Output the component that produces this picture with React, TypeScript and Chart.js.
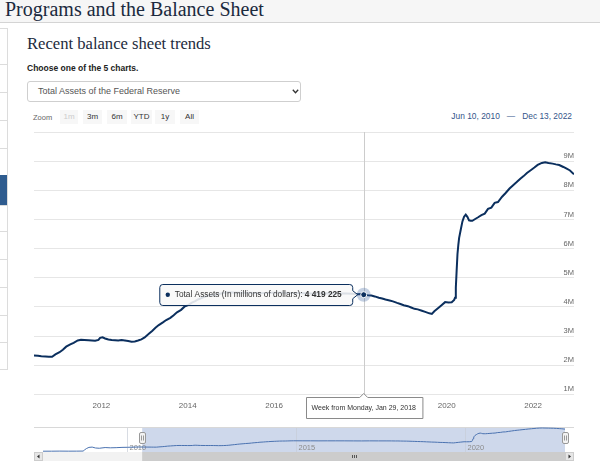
import React, { useEffect, useRef } from "react";
import { Chart, registerables } from "chart.js";

Chart.register(...registerables);

// ---------- data ----------
const DATES: string[] = [
  "2007-07-04", "2007-10-03", "2008-01-02", "2008-04-02", "2008-07-02", "2008-09-10", "2008-09-24",
  "2008-10-15", "2008-11-12", "2008-12-17", "2009-01-21", "2009-03-04", "2009-05-06", "2009-07-01",
  "2009-09-02", "2009-11-04", "2010-01-06", "2010-03-03", "2010-05-05", "2010-06-10", "2010-07-14",
  "2010-08-11", "2010-09-15", "2010-10-13", "2010-11-10", "2010-12-08", "2011-01-12", "2011-02-09",
  "2011-03-09", "2011-04-13", "2011-05-11", "2011-06-15", "2011-07-13", "2011-08-10", "2011-09-14",
  "2011-10-12", "2011-11-09", "2011-12-07", "2011-12-21", "2012-01-11", "2012-02-01", "2012-02-29",
  "2012-03-28", "2012-04-25", "2012-05-23", "2012-06-20", "2012-07-18", "2012-08-15", "2012-09-12",
  "2012-10-10", "2012-11-07", "2012-12-05", "2013-01-02", "2013-02-06", "2013-03-06", "2013-04-03",
  "2013-05-01", "2013-06-05", "2013-07-03", "2013-08-07", "2013-09-04", "2013-10-02", "2013-11-06",
  "2013-12-04", "2014-01-08", "2014-02-05", "2014-03-05", "2014-04-02", "2014-05-07", "2014-06-04",
  "2014-07-02", "2014-08-06", "2014-09-03", "2014-10-01", "2014-11-05", "2014-12-03", "2015-03-04",
  "2015-06-03", "2015-09-02", "2015-12-02", "2016-03-02", "2016-06-01", "2016-09-07", "2016-12-07",
  "2017-03-01", "2017-06-07", "2017-09-06", "2017-10-25", "2017-12-06", "2018-01-03", "2018-01-29",
  "2018-03-07", "2018-04-04", "2018-05-02", "2018-06-06", "2018-07-04", "2018-08-01", "2018-09-05",
  "2018-10-03", "2018-11-07", "2018-12-05", "2019-01-02", "2019-02-06", "2019-03-06", "2019-04-03",
  "2019-05-01", "2019-06-05", "2019-07-03", "2019-08-07", "2019-08-28", "2019-09-18", "2019-10-16",
  "2019-11-13", "2019-12-18", "2020-01-15", "2020-02-12", "2020-03-04", "2020-03-11", "2020-03-18",
  "2020-03-25", "2020-04-01", "2020-04-08", "2020-04-15", "2020-04-29", "2020-05-13", "2020-05-27",
  "2020-06-10", "2020-06-24", "2020-07-08", "2020-07-22", "2020-08-05", "2020-08-26", "2020-09-23",
  "2020-10-21", "2020-11-18", "2020-12-16", "2021-01-13", "2021-02-10", "2021-03-10", "2021-04-14",
  "2021-05-12", "2021-06-16", "2021-07-14", "2021-08-11", "2021-09-15", "2021-10-13", "2021-11-10",
  "2021-12-15", "2022-01-12", "2022-02-09", "2022-03-16", "2022-04-13", "2022-05-11", "2022-06-15",
  "2022-07-13", "2022-08-10", "2022-09-14", "2022-10-12", "2022-11-09", "2022-12-13",
];

const ASSETS: number[] = [
  878000, 884000, 915000, 893000, 902000, 925000, 1286000,
  1780000, 2207000, 2309000, 2002000, 1904000, 2145000, 2056000,
  2111000, 2205000, 2240000, 2283000, 2337000, 2334000, 2322000,
  2308000, 2302000, 2293000, 2289000, 2370000, 2446000, 2532000,
  2637000, 2712000, 2771000, 2850000, 2871000, 2867000, 2858000,
  2850000, 2841000, 2868000, 2939000, 2958000, 2919000, 2881000,
  2866000, 2859000, 2847000, 2862000, 2847000, 2831000, 2808000,
  2818000, 2849000, 2887000, 2955000, 3080000, 3177000, 3285000,
  3378000, 3470000, 3552000, 3624000, 3717000, 3817000, 3900000,
  4008000, 4073000, 4146000, 4197000, 4265000, 4319000, 4361000,
  4398000, 4419000, 4427000, 4452000, 4486000, 4500000, 4488000,
  4490000, 4472000, 4483000, 4483000, 4478000, 4466000, 4453000,
  4473000, 4463000, 4464000, 4456000, 4438000, 4440000, 4419225,
  4400000, 4389000, 4361000, 4316000, 4290000, 4254000, 4218000,
  4191000, 4139000, 4101000, 4058000, 4026000, 3979000, 3934000,
  3916000, 3868000, 3829000, 3780000, 3760000, 3850000, 3945000,
  4044000, 4165000, 4152000, 4162000, 4241000, 4312000, 4666000,
  5254000, 5815000, 6122000, 6368000, 6656000, 6934000, 7097000,
  7169000, 7092000, 6970000, 6959000, 6955000, 7008000, 7076000,
  7149000, 7201000, 7362000, 7408000, 7569000, 7597000, 7781000,
  7900000, 8062000, 8168000, 8265000, 8397000, 8487000, 8593000,
  8695000, 8780000, 8870000, 8940000, 8960000, 8935000, 8915000,
  8890000, 8868000, 8800000, 8740000, 8680000, 8551000,
];

const Y_TICKS: number[] = [1e6, 2e6, 3e6, 4e6, 5e6, 6e6, 7e6, 8e6, 9e6, 10e6];
const X_TICK_YEARS: number[] = [2012, 2014, 2016, 2018, 2020, 2022];
const NAV_YEARS: number[] = [2010, 2015, 2020];
const RANGE_START = "2010-06-10";
const RANGE_END = "2022-12-13";
const HOVER_DATE = "2018-01-29";
const SERIES_NAME = "Total Assets (In millions of dollars)";
const HOVER_LABEL = "Week from Monday, Jan 29, 2018";
const ZOOM_BUTTONS: string[] = ["1m", "3m", "6m", "YTD", "1y", "All"];
const RANGE_FROM_TEXT = "Jun 10, 2010";
const RANGE_TO_TEXT = "Dec 13, 2022";

// ---------- helpers ----------
const LINE = "#0b2f5e";
const SANS = "'Liberation Sans', Arial, sans-serif";
const SERIF = "'Liberation Serif', 'Times New Roman', serif";

function toYear(s: string): number {
  const [y, m, d] = s.split("-").map(Number);
  const a = Date.UTC(y, 0, 1);
  const b = Date.UTC(y + 1, 0, 1);
  return y + (Date.UTC(y, m - 1, d) - a) / (b - a);
}

function fmt(v: number): string {
  return String(v).replace(/\B(?=(\d{3})+(?!\d))/g, " ");
}

function roundRect(ctx: CanvasRenderingContext2D, x: number, y: number, w: number, h: number, r: number) {
  ctx.beginPath();
  ctx.moveTo(x + r, y);
  ctx.lineTo(x + w - r, y);
  ctx.quadraticCurveTo(x + w, y, x + w, y + r);
  ctx.lineTo(x + w, y + h - r);
  ctx.quadraticCurveTo(x + w, y + h, x + w - r, y + h);
  ctx.lineTo(x + r, y + h);
  ctx.quadraticCurveTo(x, y + h, x, y + h - r);
  ctx.lineTo(x, y + r);
  ctx.quadraticCurveTo(x, y, x + r, y);
  ctx.closePath();
}

const points = DATES.map((d, i) => ({ x: toYear(d), y: ASSETS[i] }));

function MainChart() {
  const ref = useRef<HTMLCanvasElement | null>(null);
  useEffect(() => {
    if (!ref.current) return;
    const hi = DATES.indexOf(HOVER_DATE);
    const overlay = {
      id: "overlay",
      beforeDatasetsDraw(chart: any) {
        const { ctx, chartArea, scales } = chart;
        const px = Math.round(scales.x.getPixelForValue(toYear(HOVER_DATE))) + 0.5;
        ctx.save();
        ctx.strokeStyle = "#cccccc";
        ctx.lineWidth = 1;
        ctx.beginPath();
        ctx.moveTo(px, chartArea.top);
        ctx.lineTo(px, chartArea.bottom + 2);
        ctx.stroke();
        ctx.restore();
      },
      afterDraw(chart: any) {
        const { ctx, chartArea, scales } = chart;
        const px = scales.x.getPixelForValue(toYear(HOVER_DATE));
        const py = scales.y.getPixelForValue(ASSETS[hi]);
        ctx.save();
        // halo + marker
        ctx.fillStyle = "rgba(60,100,160,0.3)";
        ctx.beginPath();
        ctx.arc(px, py, 7, 0, Math.PI * 2);
        ctx.fill();
        ctx.fillStyle = LINE;
        ctx.strokeStyle = "#ffffff";
        ctx.lineWidth = 1;
        ctx.beginPath();
        ctx.arc(px, py, 3, 0, Math.PI * 2);
        ctx.fill();
        ctx.stroke();

        // series tooltip (to the left of the point)
        const fontN = `8.3px ${SANS}`;
        const fontB = `bold 8.3px ${SANS}`;
        const label = SERIES_NAME + ": ";
        const val = fmt(ASSETS[hi]);
        ctx.font = fontN;
        const wl = ctx.measureText(label).width;
        ctx.font = fontB;
        const wv = ctx.measureText(val).width;
        const boxW = 16 + wl + wv + 10;
        const boxH = 21;
        const right = px - 11;
        const left = right - boxW;
        const top = Math.round(py - boxH / 2) + 0.5;
        ctx.beginPath();
        ctx.moveTo(left + 3, top);
        ctx.lineTo(right - 3, top);
        ctx.quadraticCurveTo(right, top, right, top + 3);
        ctx.lineTo(right, py - 4);
        ctx.lineTo(right + 5, py);
        ctx.lineTo(right, py + 4);
        ctx.lineTo(right, top + boxH - 3);
        ctx.quadraticCurveTo(right, top + boxH, right - 3, top + boxH);
        ctx.lineTo(left + 3, top + boxH);
        ctx.quadraticCurveTo(left, top + boxH, left, top + boxH - 3);
        ctx.lineTo(left, top + 3);
        ctx.quadraticCurveTo(left, top, left + 3, top);
        ctx.closePath();
        ctx.fillStyle = "rgba(248,248,248,0.88)";
        ctx.fill();
        ctx.strokeStyle = LINE;
        ctx.lineWidth = 1;
        ctx.stroke();
        ctx.fillStyle = LINE;
        ctx.beginPath();
        ctx.arc(left + 8, py, 2.2, 0, Math.PI * 2);
        ctx.fill();
        ctx.textBaseline = "middle";
        ctx.textAlign = "left";
        ctx.fillStyle = "#333333";
        ctx.font = fontN;
        ctx.fillText(label, left + 15, py + 0.5);
        ctx.font = fontB;
        ctx.fillText(val, left + 15 + wl, py + 0.5);

        // x crosshair label
        ctx.font = `7px ${SANS}`;
        const tw = ctx.measureText(HOVER_LABEL).width;
        const lw = tw + 12;
        const lh = 21;
        const lx = Math.round(px - lw / 2) + 0.5;
        const ly = Math.round(chartArea.bottom + 3) + 0.5;
        ctx.beginPath();
        ctx.moveTo(lx, ly);
        ctx.lineTo(px - 4, ly);
        ctx.lineTo(px, ly - 4);
        ctx.lineTo(px + 4, ly);
        ctx.lineTo(lx + lw, ly);
        ctx.lineTo(lx + lw, ly + lh);
        ctx.lineTo(lx, ly + lh);
        ctx.closePath();
        ctx.fillStyle = "#ffffff";
        ctx.fill();
        ctx.strokeStyle = "#8a8a8a";
        ctx.stroke();
        ctx.fillStyle = "#333333";
        ctx.textAlign = "center";
        ctx.fillText(HOVER_LABEL, px, ly + lh / 2 + 0.5);
        ctx.restore();
      },
    };
    const chart = new Chart(ref.current, {
      type: "line",
      data: {
        datasets: [
          {
            data: points,
            borderColor: LINE,
            borderWidth: 2,
            pointRadius: 0,
            tension: 0,
            fill: false,
          },
        ],
      },
      options: {
        animation: false,
        responsive: false,
        devicePixelRatio: 1,
        events: [],
        layout: { padding: { left: 34, right: 26, top: 7, bottom: 7 } },
        plugins: { legend: { display: false }, tooltip: { enabled: false } },
        scales: {
          x: {
            type: "linear",
            min: toYear(RANGE_START),
            max: toYear(RANGE_END),
            grid: { display: false, drawTicks: false },
            border: { display: false },
            afterBuildTicks: (s: any) => {
              s.ticks = X_TICK_YEARS.map((v) => ({ value: v }));
            },
            ticks: {
              autoSkip: false,
              maxRotation: 0,
              padding: 7,
              color: "#666666",
              font: { family: SANS, size: 8 },
              callback: (v: any) => String(v),
            },
          },
          y: {
            type: "linear",
            position: "right",
            min: Y_TICKS[0],
            max: Y_TICKS[Y_TICKS.length - 1],
            afterBuildTicks: (s: any) => {
              s.ticks = Y_TICKS.map((v) => ({ value: v }));
            },
            grid: { color: "#e6e6e6", drawTicks: false },
            border: { display: false },
            ticks: {
              mirror: true,
              padding: 0,
              labelOffset: -5,
              color: "#666666",
              font: { family: SANS, size: 7.5 },
              callback: (v: any) => (v === Y_TICKS[Y_TICKS.length - 1] ? "" : v / 1e6 + "M"),
            },
          },
        },
      },
      plugins: [overlay],
    } as any);
    return () => chart.destroy();
  }, []);
  return (
    <canvas
      ref={ref}
      width={600}
      height={300}
      style={{ position: "absolute", left: 0, top: 125, width: 600, height: 300 }}
    />
  );
}

function NavigatorChart() {
  const ref = useRef<HTMLCanvasElement | null>(null);
  useEffect(() => {
    if (!ref.current) return;
    const navPlugin = {
      id: "nav",
      beforeDatasetsDraw(chart: any) {
        const { ctx, chartArea, scales } = chart;
        ctx.save();
        // top border
        ctx.strokeStyle = "#d8d8d8";
        ctx.lineWidth = 1;
        ctx.beginPath();
        ctx.moveTo(chartArea.left - 9, chartArea.top + 0.5);
        ctx.lineTo(chartArea.right + 9, chartArea.top + 0.5);
        ctx.stroke();
        // mask
        const m0 = scales.x.getPixelForValue(toYear(RANGE_START));
        const m1 = scales.x.getPixelForValue(toYear(RANGE_END));
        ctx.fillStyle = "rgba(102,133,194,0.32)";
        ctx.fillRect(m0, chartArea.top + 1, m1 - m0, chartArea.bottom - chartArea.top - 1);
        // year grid + labels
        ctx.font = `7.5px ${SANS}`;
        ctx.textBaseline = "alphabetic";
        ctx.textAlign = "left";
        NAV_YEARS.forEach((yr) => {
          const gx = Math.round(scales.x.getPixelForValue(yr)) + 0.5;
          ctx.strokeStyle = "rgba(200,205,215,0.7)";
          ctx.beginPath();
          ctx.moveTo(gx, chartArea.top + 1);
          ctx.lineTo(gx, chartArea.bottom);
          ctx.stroke();
          ctx.fillStyle = "#8c8c8c";
          ctx.fillText(String(yr), gx + 2, chartArea.bottom - 2);
        });
        ctx.restore();
      },
      afterDraw(chart: any) {
        const { ctx, chartArea, scales } = chart;
        const m0 = scales.x.getPixelForValue(toYear(RANGE_START));
        const m1 = scales.x.getPixelForValue(toYear(RANGE_END));
        ctx.save();
        // handles
        [m0, m1].forEach((hx) => {
          const x = Math.round(hx - 3) + 0.5;
          const y = chartArea.top + 5.5;
          roundRect(ctx, x, y, 6, 11, 1.5);
          ctx.fillStyle = "#f2f2f2";
          ctx.fill();
          ctx.strokeStyle = "#999999";
          ctx.lineWidth = 1;
          ctx.stroke();
          ctx.beginPath();
          ctx.moveTo(x + 2, y + 3);
          ctx.lineTo(x + 2, y + 8);
          ctx.moveTo(x + 4, y + 3);
          ctx.lineTo(x + 4, y + 8);
          ctx.stroke();
        });
        // scrollbar
        const sy = chartArea.bottom;
        const sh = 9;
        const L = chartArea.left - 9;
        const R = chartArea.right + 9;
        ctx.fillStyle = "#f2f2f2";
        ctx.fillRect(L, sy, R - L, sh);
        ctx.fillStyle = "#cccccc";
        ctx.fillRect(m0, sy, m1 - m0, sh);
        // grip
        const gc = (m0 + m1) / 2;
        ctx.strokeStyle = "#555555";
        ctx.beginPath();
        [-2, 0, 2].forEach((o) => {
          ctx.moveTo(Math.round(gc + o) + 0.5, sy + 3);
          ctx.lineTo(Math.round(gc + o) + 0.5, sy + 6);
        });
        ctx.stroke();
        // buttons
        ctx.fillStyle = "#e6e6e6";
        ctx.fillRect(L, sy, 9, sh);
        ctx.fillRect(R - 9, sy, 9, sh);
        ctx.strokeStyle = "#cccccc";
        ctx.strokeRect(L + 0.5, sy + 0.5, 8, sh - 1);
        ctx.strokeRect(R - 8.5, sy + 0.5, 8, sh - 1);
        ctx.fillStyle = "#333333";
        ctx.beginPath();
        ctx.moveTo(L + 3, sy + sh / 2);
        ctx.lineTo(L + 5.5, sy + 2.5);
        ctx.lineTo(L + 5.5, sy + sh - 2.5);
        ctx.closePath();
        ctx.fill();
        ctx.beginPath();
        ctx.moveTo(R - 3, sy + sh / 2);
        ctx.lineTo(R - 5.5, sy + 2.5);
        ctx.lineTo(R - 5.5, sy + sh - 2.5);
        ctx.closePath();
        ctx.fill();
        ctx.restore();
      },
    };
    const chart = new Chart(ref.current, {
      type: "line",
      data: {
        datasets: [
          {
            data: points,
            borderColor: "#4a72b0",
            borderWidth: 1,
            pointRadius: 0,
            tension: 0,
            fill: false,
          },
        ],
      },
      options: {
        animation: false,
        responsive: false,
        devicePixelRatio: 1,
        events: [],
        layout: { padding: { left: 43, right: 35, top: 7, bottom: 11 } },
        plugins: { legend: { display: false }, tooltip: { enabled: false } },
        scales: {
          x: { type: "linear", display: false, min: toYear(DATES[0]), max: toYear(DATES[DATES.length - 1]) },
          y: { type: "linear", display: false, min: 600000, max: 9300000 },
        },
      },
      plugins: [navPlugin],
    } as any);
    return () => chart.destroy();
  }, []);
  return (
    <canvas
      ref={ref}
      width={600}
      height={43}
      style={{ position: "absolute", left: 0, top: 420, width: 600, height: 43 }}
    />
  );
}

const SIDEBAR_LINES: number[] = [64, 92, 120, 148, 175, 205, 231, 259, 287, 315, 342];

export default function App() {
  const btnX = [60, 83, 107, 131, 155, 180];
  const btnW = [18, 19, 20, 21, 20, 19];
  return (
    <div
      style={{
        position: "absolute",
        left: 0,
        top: 0,
        width: 600,
        height: 463,
        overflow: "hidden",
        background: "#ffffff",
        fontFamily: SANS,
      }}
    >
      {/* header band */}
      <div
        style={{
          position: "absolute",
          left: 0,
          top: 0,
          width: 600,
          height: 22,
          background: "#f6f6f6",
          borderBottom: "1px solid #d4d4d4",
          overflow: "hidden",
        }}
      >
        <div
          style={{
            position: "absolute",
            left: 5,
            top: -2,
            fontFamily: SERIF,
            fontSize: 20,
            lineHeight: "22px",
            color: "#1b2a3e",
            whiteSpace: "nowrap",
          }}
        >
          Programs and the Balance Sheet
        </div>
      </div>

      {/* left sidebar */}
      <div
        style={{
          position: "absolute",
          left: 0,
          top: 28,
          width: 7,
          height: 340,
          borderRight: "1px solid #dcdcdc",
          borderTop: "1px solid #dcdcdc",
          borderBottom: "1px solid #dcdcdc",
        }}
      />
      {SIDEBAR_LINES.map((y) => (
        <div key={y} style={{ position: "absolute", left: 0, top: y, width: 7, height: 1, background: "#dcdcdc" }} />
      ))}
      <div style={{ position: "absolute", left: 0, top: 175, width: 7, height: 30, background: "#2f5c8f" }} />

      {/* headings */}
      <div
        style={{
          position: "absolute",
          left: 27,
          top: 35,
          fontFamily: SERIF,
          fontSize: 16.6,
          lineHeight: "18px",
          color: "#1d2b3d",
          whiteSpace: "nowrap",
        }}
      >
        Recent balance sheet trends
      </div>
      <div
        style={{
          position: "absolute",
          left: 27,
          top: 63,
          fontSize: 8.5,
          fontWeight: "bold",
          lineHeight: "10px",
          color: "#222222",
          whiteSpace: "nowrap",
        }}
      >
        Choose one of the 5 charts.
      </div>

      {/* select */}
      <div
        style={{
          position: "absolute",
          left: 27,
          top: 81,
          width: 272,
          height: 19,
          border: "1px solid #cfcfcf",
          borderRadius: 3,
          background: "#ffffff",
        }}
      >
        <div
          style={{
            position: "absolute",
            left: 10,
            top: 0,
            lineHeight: "19px",
            fontSize: 9,
            color: "#555555",
            whiteSpace: "nowrap",
          }}
        >
          Total Assets of the Federal Reserve
        </div>
        <svg style={{ position: "absolute", left: 264, top: 7 }} width="7" height="5" viewBox="0 0 7 5">
          <polyline points="0.8,0.8 3.5,3.8 6.2,0.8" fill="none" stroke="#333" strokeWidth="1.3" />
        </svg>
      </div>

      {/* zoom row */}
      <div
        style={{
          position: "absolute",
          left: 33,
          top: 111,
          lineHeight: "13px",
          fontSize: 7.5,
          color: "#666666",
        }}
      >
        Zoom
      </div>
      {ZOOM_BUTTONS.map((b, i) => (
        <div
          key={b}
          style={{
            position: "absolute",
            left: btnX[i],
            top: 110,
            width: btnW[i],
            height: 14,
            lineHeight: "14px",
            background: "#f7f7f7",
            textAlign: "center",
            fontSize: 8,
            color: i === 0 ? "#cccccc" : "#333333",
          }}
        >
          {b}
        </div>
      ))}

      {/* range display */}
      <div
        style={{
          position: "absolute",
          right: 28,
          top: 110,
          lineHeight: "13px",
          fontSize: 8.4,
          color: "#34558a",
          whiteSpace: "nowrap",
        }}
      >
        {RANGE_FROM_TEXT}
        <span style={{ margin: "0 7px" }}>—</span>
        {RANGE_TO_TEXT}
      </div>

      <MainChart />
      <NavigatorChart />
    </div>
  );
}
